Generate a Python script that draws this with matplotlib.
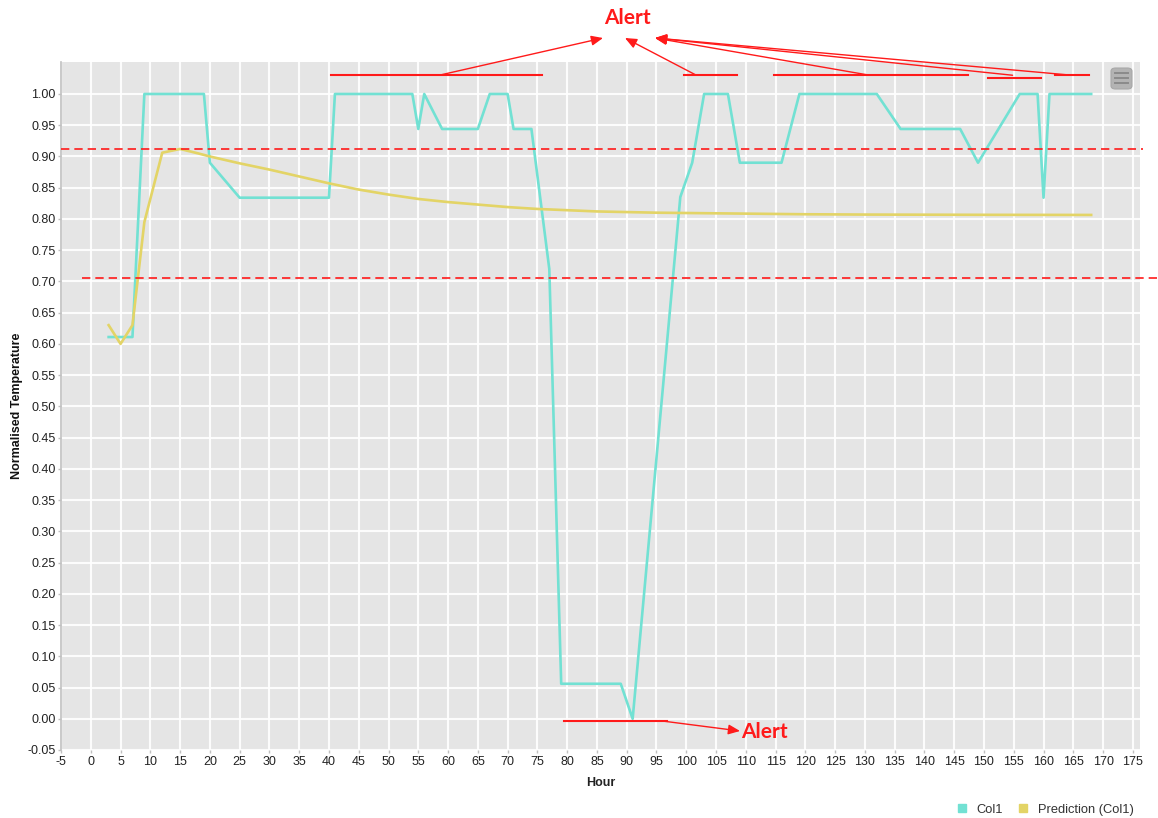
import matplotlib
matplotlib.use("Agg")
import matplotlib.pyplot as plt
from matplotlib.lines import Line2D
from matplotlib.patches import FancyBboxPatch

# ---------------- data ----------------
col1_hours = [3, 7, 9, 19, 20, 25, 40, 41, 54, 55, 56, 59, 65, 67, 70, 71, 74, 77, 79,
              89, 91, 99, 101, 103, 107, 109, 116, 119, 132, 136, 146, 149, 156, 159,
              160, 161, 168]
col1_values = [0.611, 0.611, 1.0, 1.0, 0.890, 0.834, 0.834, 1.0, 1.0, 0.944, 1.0, 0.944,
               0.944, 1.0, 1.0, 0.944, 0.944, 0.720, 0.056, 0.056, 0.0, 0.835, 0.890,
               1.0, 1.0, 0.890, 0.890, 1.0, 1.0, 0.944, 0.944, 0.890, 1.0, 1.0, 0.834,
               1.0, 1.0]

pred_hours = [3, 5, 7, 9, 12, 15, 18, 20, 25, 30, 35, 40, 45, 50, 55, 60, 65, 70, 75,
              80, 85, 90, 95, 100, 110, 120, 130, 140, 150, 160, 168]
pred_values = [0.630, 0.600, 0.630, 0.795, 0.906, 0.912, 0.905, 0.900, 0.889, 0.879,
               0.868, 0.857, 0.847, 0.839, 0.832, 0.827, 0.823, 0.819, 0.816, 0.814,
               0.812, 0.811, 0.810, 0.8095, 0.8085, 0.8075, 0.807, 0.8068, 0.8066,
               0.8065, 0.8064]

upper_threshold = 0.912
lower_threshold = 0.706

# alert ranges (hours) drawn above the chart, and their arrow start hours
alert_top_starts = [40.4, 99.7, 114.8, 150.6, 161.9]
alert_top_ends = [75.8, 108.6, 147.3, 159.5, 167.6]
alert_top_levels = [1.030, 1.030, 1.030, 1.026, 1.030]
alert_top_arrow_from = [58.5, 101.7, 130.8, 154.8, 164.8]
alert_bottom_start = 79.4
alert_bottom_end = 96.8
alert_bottom_level = -0.003

x_ticks = list(range(-5, 180, 5))
y_ticks = [round(-0.05 + 0.05 * i, 2) for i in range(22)]

series_names = ["Col1", "Prediction (Col1)"]

# ---------------- style ----------------
W, H = 1158, 818
CYAN = "#72e1d3"
YELLOW = "#e3d466"
RED = "#ff1a1a"
BG = "#e5e5e5"
plt.rcParams["font.family"] = ["Liberation Sans", "DejaVu Sans"]

fig = plt.figure(figsize=(W / 100, H / 100), dpi=100)
ax = fig.add_axes([61 / W, 1 - 750 / H, (1140 - 61) / W, (750 - 62) / H])
ax.set_facecolor(BG)

ax.set_xlim(-5, 176.2)
ax.set_ylim(-0.05, 1.0512)
ax.set_xticks(x_ticks)
ax.set_xticklabels([str(t) for t in x_ticks])
ax.set_yticks(y_ticks)
ax.set_yticklabels([f"{t:.2f}" for t in y_ticks])
ax.grid(True, color="white", linewidth=1.5, alpha=0.9)
ax.set_axisbelow(True)
for s in ["top", "right", "bottom"]:
    ax.spines[s].set_visible(False)
ax.spines["left"].set_color("#c0c0c0")
ax.spines["left"].set_linewidth(1.2)
ax.tick_params(axis="both", labelsize=9, colors="#c0c0c0", labelcolor="#222222",
               length=2.5, width=1)
ax.tick_params(axis="y", pad=1.2)
ax.tick_params(axis="x", pad=2)

ax.set_xlabel("Hour", fontsize=9, fontweight="bold", color="#222222", labelpad=6)
ax.set_ylabel("Normalised Temperature", fontsize=9, fontweight="bold",
              color="#111111", labelpad=3)

ax.plot(col1_hours, col1_values, color=CYAN, linewidth=1.9, zorder=3)
ax.plot(pred_hours, pred_values, color=YELLOW, linewidth=1.9, zorder=3)

# threshold dashed lines
ax.plot([-5, 176.7], [upper_threshold] * 2, color=RED, linestyle=(0, (5, 3)),
        linewidth=1.2, clip_on=False, zorder=4)
ax.plot([-1.5, 179.5], [lower_threshold] * 2, color=RED, linestyle=(0, (5, 3)),
        linewidth=1.2, clip_on=False, zorder=4)

# alert segments and arrows
heads = [(603, 38), (625, 38), (655, 38), (655, 38), (655, 38)]
for s, e, lv, af, hd in zip(alert_top_starts, alert_top_ends, alert_top_levels,
                            alert_top_arrow_from, heads):
    ax.plot([s, e], [lv, lv], color=RED, linewidth=1.5, clip_on=False, zorder=5)
    ax.annotate("", xy=(hd[0] / W, 1 - hd[1] / H), xycoords="figure fraction",
                xytext=(af, 1.030), textcoords="data",
                arrowprops=dict(arrowstyle="-|>,head_length=0.7,head_width=0.3",
                                color=RED, lw=1.0, shrinkA=0, shrinkB=0),
                annotation_clip=False, zorder=5)

ax.plot([alert_bottom_start, alert_bottom_end], [alert_bottom_level] * 2,
        color=RED, linewidth=1.5, clip_on=False, zorder=5)
ax.annotate("", xy=(740 / W, 1 - 731 / H), xycoords="figure fraction",
            xytext=(95.5, alert_bottom_level), textcoords="data",
            arrowprops=dict(arrowstyle="-|>,head_length=0.7,head_width=0.3",
                            color=RED, lw=1.0, shrinkA=0, shrinkB=0),
            annotation_clip=False, zorder=5)

fig.text(627 / W, 1 - 18 / H, "Alert", color=RED, fontsize=15, fontweight="bold",
         family=["Lato", "DejaVu Sans"], ha="center", va="center")
fig.text(764 / W, 1 - 732 / H, "Alert", color=RED, fontsize=15, fontweight="bold",
         family=["Lato", "DejaVu Sans"], ha="center", va="center")

# menu icon
icon = FancyBboxPatch((1111 / W, 1 - 89 / H), 21 / W, 21 / H,
                      boxstyle="round,pad=0.0,rounding_size=0.004",
                      transform=fig.transFigure, facecolor="#b3b3b3",
                      edgecolor="#a8a8a8", linewidth=0.8, zorder=6)
fig.add_artist(icon)
for yy in [73, 78, 83]:
    fig.add_artist(Line2D([1115 / W, 1128 / W], [1 - yy / H] * 2, color="#8a8a8a",
                          linewidth=1.4, transform=fig.transFigure, zorder=7))

# legend
handles = [Line2D([], [], color=c, marker="s", linestyle="none", markersize=6)
           for c in [CYAN, YELLOW]]
fig.legend(handles, series_names, loc="center right",
           bbox_to_anchor=(1145 / W, 1 - 810 / H), ncol=2, frameon=False,
           fontsize=9.3, handletextpad=0.1, columnspacing=0.6, labelcolor="#333333")

fig.savefig("out.png", dpi=100, facecolor="white")
